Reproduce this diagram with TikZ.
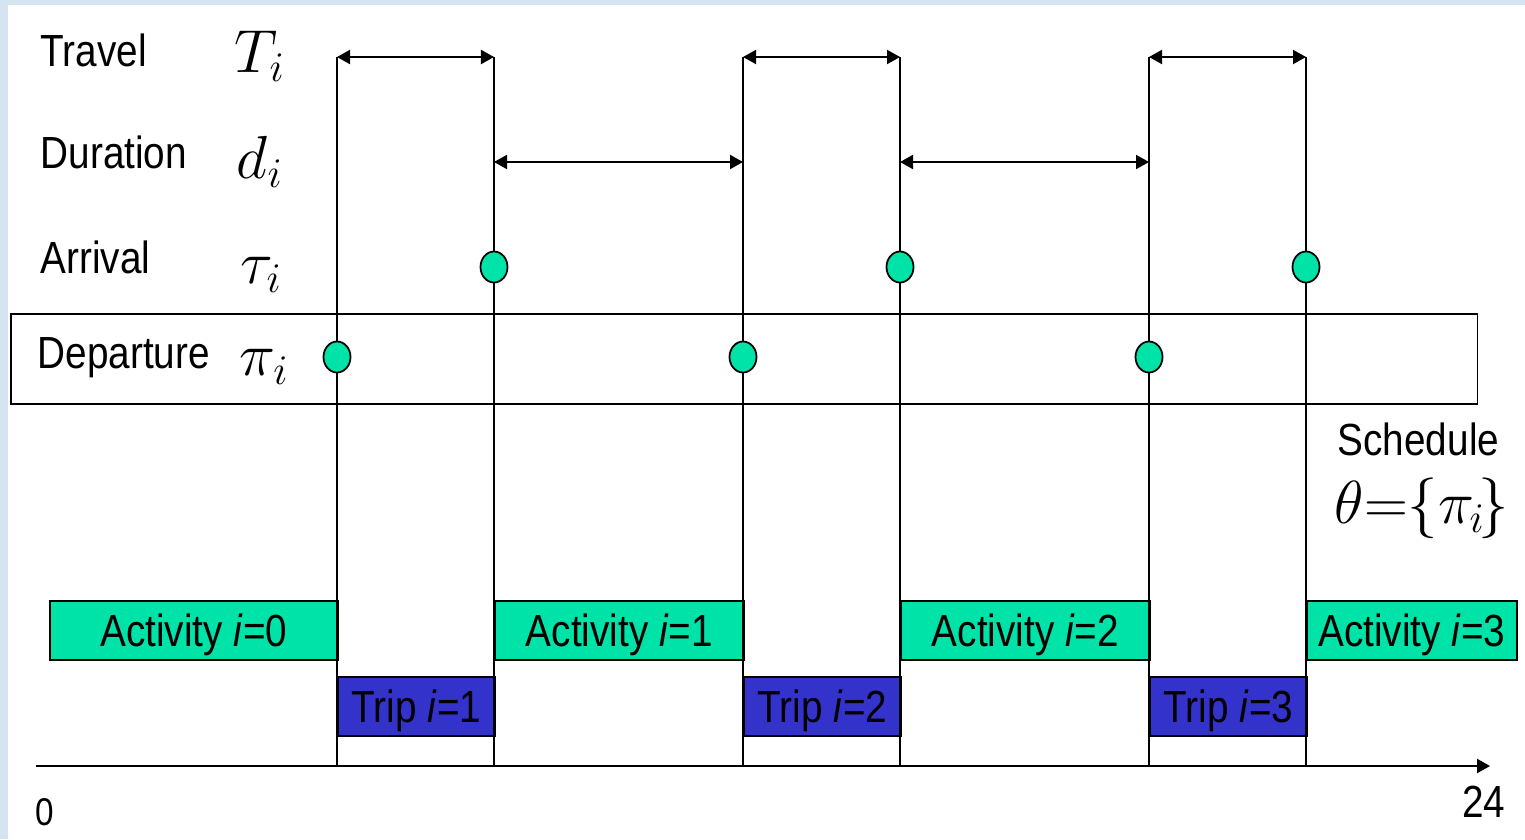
\documentclass[tikz,border=0pt]{standalone}
\usepackage{fontspec}
\setmainfont{Liberation Sans}[FakeStretch=0.86]
\usetikzlibrary{arrows.meta,shapes.geometric}
\definecolor{actgreen}{RGB}{0,227,168}
\definecolor{tripblue}{RGB}{51,51,204}
\definecolor{bgblue}{RGB}{214,228,242}
\tikzset{
  lbl/.style={inner sep=0pt, font=\fontsize{12.8}{15}\selectfont},
  mathlbl/.style={inner sep=0pt, font=\fontsize{16.5}{19}\selectfont},
  actbox/.style={draw, line width=0.45pt, fill=actgreen, inner sep=0pt, anchor=north west,
     minimum height=0.59cm, text height=9.2pt, text depth=0pt, font=\fontsize{12.8}{15}\selectfont},
  tripbox/.style={draw, line width=0.45pt, fill=tripblue, inner sep=0pt, anchor=north west,
     minimum width=1.57cm, minimum height=0.59cm, text height=9.2pt, text depth=0pt,
     font=\fontsize{12.8}{15}\selectfont},
  vline/.style={line width=0.75pt},
  dimarrow/.style={line width=0.5pt, {Triangle[length=3.7pt,width=4pt]}-{Triangle[length=3.7pt,width=4pt]}},
  axisline/.style={line width=0.55pt, -{Triangle[length=3.7pt,width=4pt]}},
  dot/.style={ellipse, draw, line width=0.5pt, fill=actgreen, inner sep=0pt,
     minimum width=0.27cm, minimum height=0.31cm},
}
\begin{document}
\begin{tikzpicture}[x=0.01cm, y=-0.01cm]
% background
\fill[bgblue] (0,0) rectangle (1525,839);
\fill[white] (8,5) rectangle (1525,839);
\useasboundingbox (0,0) rectangle (1525,839);

% departure row frame
\node[draw, line width=0.45pt, anchor=north west, inner sep=0pt,
      minimum width=14.66cm, minimum height=0.90cm] (deprow) at (10,313) {};

% activity and trip boxes
\node[actbox, minimum width=2.88cm] (act0) at (49,600) {Activity \textit{i}=0};
\node[actbox, minimum width=2.49cm] (act1) at (494,600) {Activity \textit{i}=1};
\node[actbox, minimum width=2.49cm] (act2) at (900,600) {Activity \textit{i}=2};
\node[actbox, minimum width=2.10cm] (act3) at (1306,600) {Activity \textit{i}=3};
\node[tripbox] (trip1) at (337,676) {Trip \textit{i}=1};
\node[tripbox] (trip2) at (743,676) {Trip \textit{i}=2};
\node[tripbox] (trip3) at (1149,676) {Trip \textit{i}=3};

% vertical time lines
\foreach \n/\x in {1/337,2/494,3/743,4/900,5/1149,6/1306}{
  \coordinate (t\n) at (\x,57);
  \coordinate (d\n) at (\x,162);
  \coordinate (b\n) at (\x,766);
  \draw[vline] (t\n) -- (b\n);
}

% axis
\coordinate (ax0) at (36,766);
\coordinate (ax1) at (1490,766);
\draw[axisline] (ax0) -- (ax1);

% travel arrows
\draw[dimarrow] (t1) -- (t2);
\draw[dimarrow] (t3) -- (t4);
\draw[dimarrow] (t5) -- (t6);
% duration arrows
\draw[dimarrow] (d2) -- (d3);
\draw[dimarrow] (d4) -- (d5);

% arrival and departure dots
\node[dot] (arr1) at (494,267) {};
\node[dot] (arr2) at (900,267) {};
\node[dot] (arr3) at (1306,267) {};
\node[dot] (dep1) at (337,357) {};
\node[dot] (dep2) at (743,357) {};
\node[dot] (dep3) at (1149,357) {};

% row labels
\node[lbl, anchor=base west] (travel) at (40,66) {Travel};
\node[lbl, anchor=base west] (duration) at (40,168) {Duration};
\node[lbl, anchor=base west] (arrival) at (40,273) {Arrival};
\node[lbl, anchor=base west] (departure) at (37,368) {Departure};
\node[mathlbl, anchor=base west] (Ti) at (234,72) {$T_i$};
\node[mathlbl, anchor=base west] (di) at (236,178) {$d_i$};
\node[mathlbl, anchor=base west] (taui) at (240,283) {$\tau_i$};
\node[mathlbl, anchor=base west] (pii) at (239,375) {$\pi_i$};

% schedule
\node[lbl, anchor=base west] (sched) at (1337,455) {Schedule};
\node[mathlbl, anchor=base west, font=\fontsize{17}{20}\selectfont] (theta) at (1334,523)
   {$\theta\mkern0mu{=}\mkern0mu\bigl\{\pi_{\mkern-1mu i}\mkern-2mu\bigr\}$};

% axis labels
\node[inner sep=0pt, anchor=base west, font=\fontsize{11}{13}\selectfont] (zero) at (35,825) {0};
\node[lbl, anchor=base east] (tf) at (1506,817) {24};
\end{tikzpicture}
\end{document}
